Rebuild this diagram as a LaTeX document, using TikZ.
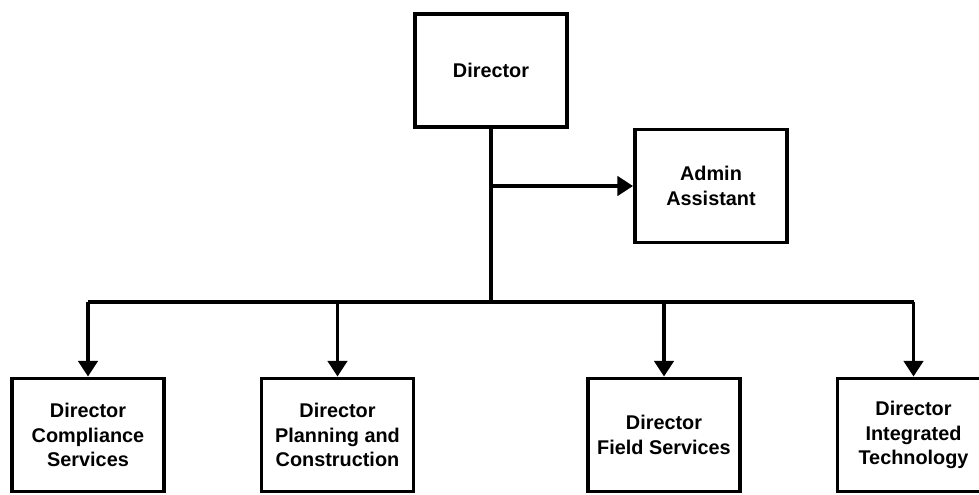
\documentclass[tikz,border=0pt]{standalone}
\usepackage{fontspec}
\setmainfont{Liberation Sans}
\usetikzlibrary{arrows.meta}
\begin{document}
\begin{tikzpicture}[x=0.02cm,y=-0.02cm,
  box/.style={draw=black,line width=2.2pt,minimum width=3.04cm,minimum height=2.26cm,
    align=center,font=\fontsize{11.3}{14}\selectfont\bfseries,inner sep=0pt},
  link/.style={line width=2.2pt},
  arr/.style={line width=2.2pt,-{Triangle[width=11pt,length=9pt]}}]
\useasboundingbox (0,0) rectangle (979,494);
\clip (0,0) rectangle (979,494);
% top of the chart
\node[box] (dir) at (491,70.5) {Director};
\node[box] (aa) at (711,186) {Admin\\Assistant};
% the four directors
\node[box] (cs) at (88,435) {Director\\Compliance\\Services};
\node[box] (pc) at (337.5,435) {Director\\Planning and\\Construction};
\node[box] (fs) at (664,435) {Director\\Field Services};
\node[box] (it) at (913.5,435) {Director\\Integrated\\Technology};
\coordinate (bus) at (491,302);
\draw[link] (dir.south) -- (bus);
\draw[arr] (dir.south |- aa.west) -- (aa.west);
\draw[link] (cs.north |- bus) -- (it.north |- bus);
\draw[arr] (cs.north |- bus) -- (cs.north);
\draw[arr] (pc.north |- bus) -- (pc.north);
\draw[arr] (fs.north |- bus) -- (fs.north);
\draw[arr] (it.north |- bus) -- (it.north);
\end{tikzpicture}
\end{document}
